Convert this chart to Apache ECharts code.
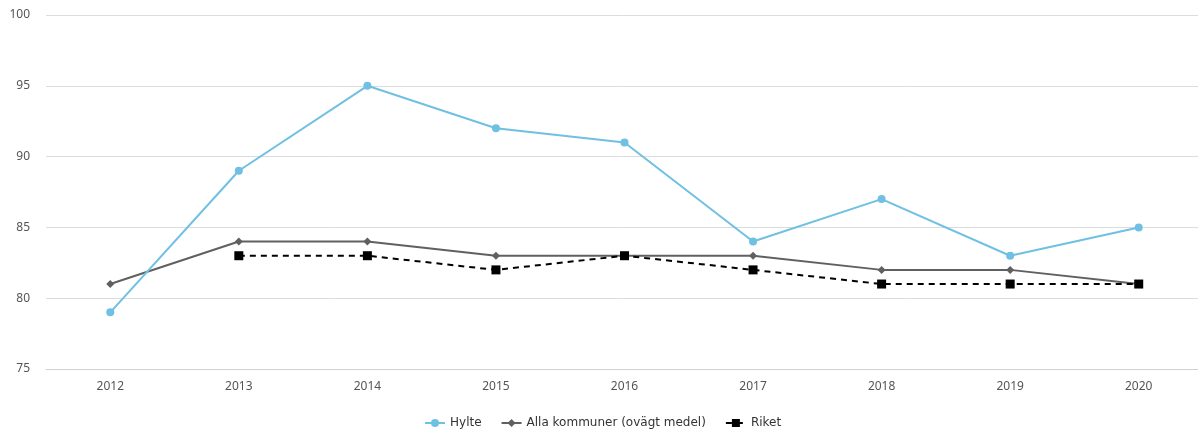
<!DOCTYPE html>
<html><head><meta charset="utf-8">
<script src="https://cdn.jsdelivr.net/npm/echarts@6/dist/echarts.min.js"></script>
<style>html,body{margin:0;padding:0;background:#fff}#c{width:1198px;height:433px}</style>
</head><body><div id="c"></div>
<script>
const years = ['2012','2013','2014','2015','2016','2017','2018','2019','2020'];
const hylte = [79, 89, 95, 92, 91, 84, 87, 83, 85];
const alla = [81, 84, 84, 83, 83, 83, 82, 82, 81];
const riket = [null, 83, 83, 82, 83, 82, 81, 81, 81];
const yTicks = [75, 100, 5];

const chart = echarts.init(document.getElementById('c'));
const font = '"Noto Sans", sans-serif';
chart.setOption({
  animation: false,
  textStyle: {fontFamily: font},
  grid: {left: 46, top: 15, width: 1157, height: 354, containLabel: false, outerBoundsMode: 'none'},
  legend: {
    top: 412, left: 419, itemGap: 19, itemWidth: 20, itemHeight: 10,
    textStyle: {fontSize: 12, color: '#333', fontFamily: '"DejaVu Sans", sans-serif'},
    data: ['Hylte', 'Alla kommuner (ovägt medel)', 'Riket']
  },
  xAxis: {
    type: 'category', data: years, boundaryGap: true,
    axisLine: {show: true, lineStyle: {color: '#d0d0d0'}},
    axisTick: {show: false},
    axisLabel: {color: '#555', fontSize: 12, margin: 12}
  },
  yAxis: {
    type: 'value', min: yTicks[0], max: yTicks[1], interval: yTicks[2],
    axisLine: {show: false}, axisTick: {show: false},
    splitLine: {lineStyle: {color: '#dcdcdc'}},
    axisLabel: {color: '#555', fontSize: 12, margin: 16}
  },
  series: [
    {name: 'Hylte', type: 'line', data: hylte, symbol: 'circle', symbolSize: 8,
     itemStyle: {color: '#6fc0e2'}, lineStyle: {color: '#6fc0e2', width: 2}, z: 3},
    {name: 'Alla kommuner (ovägt medel)', type: 'line', data: alla, symbol: 'diamond', symbolSize: 8,
     itemStyle: {color: '#606060'}, lineStyle: {color: '#606060', width: 2}, z: 2},
    {name: 'Riket', type: 'line', data: riket, symbol: 'rect', symbolSize: 9,
     itemStyle: {color: '#000'}, lineStyle: {color: '#000', width: 2, type: [6, 5]}, z: 4}
  ]
});
</script></body></html>
